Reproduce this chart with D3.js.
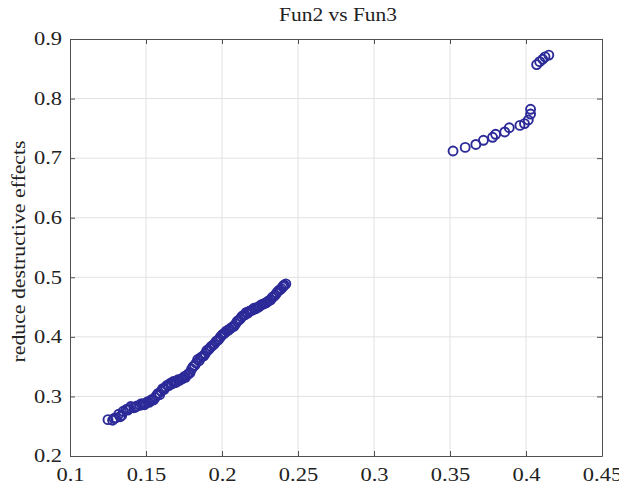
<!DOCTYPE html>
<html>
<head>
<meta charset="utf-8">
<script src="https://cdn.jsdelivr.net/npm/d3@7"></script>
<style>
  body { margin: 0; background: #fff; }
  svg { display: block; }
  text { font-family: "Liberation Serif", "DejaVu Serif", serif; fill: #222; }
</style>
</head>
<body>
<svg id="chart" width="619" height="487"></svg>
<script>
// lower cluster
const lowX = [0.125, 0.128, 0.130, 0.132, 0.134, 0.135, 0.137, 0.139, 0.140, 0.142,
  0.144, 0.146, 0.148, 0.150, 0.151, 0.153, 0.154, 0.156, 0.157, 0.158,
  0.160, 0.161, 0.163, 0.165, 0.167, 0.168, 0.170, 0.172, 0.174, 0.176,
  0.177, 0.179, 0.180, 0.181, 0.183, 0.184, 0.186, 0.188, 0.189, 0.190,
  0.192, 0.193, 0.195, 0.196, 0.198, 0.199, 0.200, 0.202, 0.203, 0.205,
  0.206, 0.208, 0.209, 0.210, 0.212, 0.213, 0.215, 0.216, 0.218, 0.220,
  0.222, 0.224, 0.225, 0.227, 0.229, 0.230, 0.232, 0.233, 0.235, 0.236,
  0.237, 0.239, 0.240, 0.241, 0.242,
  0.147, 0.149, 0.152, 0.155, 0.159, 0.162, 0.164, 0.166, 0.169, 0.171,
  0.173, 0.175, 0.178, 0.182, 0.185, 0.187, 0.191, 0.194, 0.197, 0.201,
  0.204, 0.207, 0.211, 0.214, 0.217, 0.219, 0.221, 0.223, 0.226, 0.228,
  0.231, 0.234, 0.238, 0.2405, 0.143, 0.138, 0.133, 0.129];
const lowY = [0.261, 0.260, 0.264, 0.270, 0.268, 0.275, 0.278, 0.280, 0.283, 0.281,
  0.284, 0.285, 0.287, 0.289, 0.291, 0.293, 0.295, 0.298, 0.302, 0.305,
  0.309, 0.313, 0.316, 0.318, 0.321, 0.325, 0.324, 0.327, 0.330, 0.332,
  0.336, 0.340, 0.346, 0.350, 0.356, 0.362, 0.365, 0.368, 0.372, 0.377,
  0.381, 0.384, 0.388, 0.392, 0.396, 0.400, 0.403, 0.407, 0.410, 0.413,
  0.415, 0.418, 0.422, 0.426, 0.430, 0.434, 0.437, 0.441, 0.443, 0.445,
  0.447, 0.450, 0.452, 0.455, 0.457, 0.459, 0.462, 0.466, 0.470, 0.474,
  0.477, 0.481, 0.484, 0.487, 0.489,
  0.288, 0.286, 0.290, 0.294, 0.303, 0.312, 0.319, 0.322, 0.323, 0.328,
  0.329, 0.333, 0.338, 0.352, 0.360, 0.367, 0.378, 0.386, 0.394, 0.405,
  0.411, 0.417, 0.428, 0.436, 0.440, 0.444, 0.448, 0.449, 0.454, 0.456,
  0.461, 0.468, 0.479, 0.486, 0.282, 0.277, 0.266, 0.263];

// upper cluster
const highX = [0.352, 0.360, 0.367, 0.372, 0.378, 0.380, 0.386, 0.389, 0.396, 0.399,
  0.4015, 0.403, 0.403, 0.407, 0.409, 0.411, 0.4125, 0.415];
const highY = [0.712, 0.718, 0.723, 0.730, 0.735, 0.740, 0.744, 0.751, 0.755, 0.758,
  0.764, 0.774, 0.782, 0.857, 0.862, 0.866, 0.870, 0.873];

const xTicks = [0.1, 0.15, 0.2, 0.25, 0.3, 0.35, 0.4, 0.45];
const yTicks = [0.2, 0.3, 0.4, 0.5, 0.6, 0.7, 0.8, 0.9];

const titleText = 'Fun2 vs Fun3';
const yLabelText = 'reduce destructive effects';

const margin = { top: 39, right: 17, bottom: 31, left: 70 };
const width = 619 - margin.left - margin.right;
const height = 487 - margin.top - margin.bottom;

const svg = d3.select('#chart');
const g = svg.append('g').attr('transform', `translate(${margin.left},${margin.top})`);

const x = d3.scaleLinear().domain([0.1, 0.45]).range([0, width]);
const y = d3.scaleLinear().domain([0.2, 0.9]).range([height, 0]);

// the reference type is wide, stretch the glyphs a bit
const widen = (sel, k) => sel.each(function () {
  const len = this.getComputedTextLength();
  d3.select(this).attr('textLength', len * k).attr('lengthAdjust', 'spacingAndGlyphs');
});

// grid
g.append('g').selectAll('line').data(xTicks.slice(1, -1)).enter().append('line')
  .attr('x1', d => x(d)).attr('x2', d => x(d)).attr('y1', 0).attr('y2', height)
  .attr('stroke', '#e2e2e2').attr('stroke-width', 1);
g.append('g').selectAll('line').data(yTicks.slice(1, -1)).enter().append('line')
  .attr('y1', d => y(d)).attr('y2', d => y(d)).attr('x1', 0).attr('x2', width)
  .attr('stroke', '#e2e2e2').attr('stroke-width', 1);

// axes (matlab style: inward ticks on all sides)
const fmt = d => String(+d.toFixed(2));
const styleAxis = sel => {
  sel.select('.domain').attr('stroke', '#505050');
  sel.selectAll('.tick line').attr('stroke', '#505050');
  sel.selectAll('text').attr('font-size', 18).attr('fill', '#222')
    .style('font-family', '"Liberation Serif", "DejaVu Serif", serif')
    .call(widen, 1.25);
};
g.append('g').attr('transform', `translate(0,${height})`)
  .call(d3.axisBottom(x).tickValues(xTicks).tickFormat(fmt).tickSizeInner(-5).tickSizeOuter(0).tickPadding(12))
  .call(styleAxis);
g.append('g')
  .call(d3.axisLeft(y).tickValues(yTicks).tickFormat(fmt).tickSizeInner(-5).tickSizeOuter(0).tickPadding(8))
  .call(styleAxis);
g.append('g')
  .call(d3.axisTop(x).tickValues(xTicks).tickFormat('').tickSizeInner(-5).tickSizeOuter(0))
  .call(styleAxis);
g.append('g').attr('transform', `translate(${width},0)`)
  .call(d3.axisRight(y).tickValues(yTicks).tickFormat('').tickSizeInner(-5).tickSizeOuter(0))
  .call(styleAxis);

// points
const points = lowX.map((v, i) => [v, lowY[i]]).concat(highX.map((v, i) => [v, highY[i]]));
g.append('g').selectAll('circle').data(points).enter().append('circle')
  .attr('cx', d => x(d[0])).attr('cy', d => y(d[1])).attr('r', 4.5)
  .attr('fill', 'none').attr('stroke', '#2c2a98').attr('stroke-width', 1.9);

// title and label
svg.append('text').attr('x', margin.left + width / 2 + 2).attr('y', 21)
  .attr('text-anchor', 'middle').attr('font-size', 18).text(titleText)
  .attr('textLength', 118).attr('lengthAdjust', 'spacingAndGlyphs');
svg.append('text')
  .attr('transform', `translate(25,${margin.top + height / 2 + 4}) rotate(-90)`)
  .attr('text-anchor', 'middle').attr('font-size', 19).text(yLabelText)
  .attr('textLength', 222).attr('lengthAdjust', 'spacingAndGlyphs');
</script>
</body>
</html>
